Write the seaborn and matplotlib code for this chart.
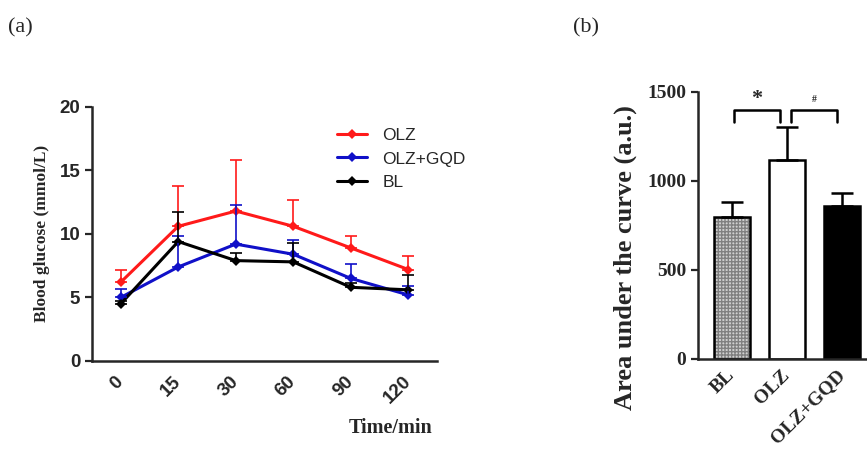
import numpy as np
import pandas as pd
import matplotlib.pyplot as plt
import seaborn as sns
from matplotlib.patches import Rectangle

sns.set_style('ticks')
plt.rcParams['font.family'] = ['Liberation Sans', 'DejaVu Sans']
plt.rcParams['hatch.linewidth'] = 1.0

# (a) blood glucose over time
times = ['0', '15', '30', '60', '90', '120']
groups = ['OLZ', 'OLZ+GQD', 'BL']
olz = [6.2, 10.6, 11.8, 10.6, 8.9, 7.2]
olz_sd = [1.0, 3.2, 4.0, 2.1, 0.9, 1.1]
gqd = [5.0, 7.4, 9.2, 8.4, 6.5, 5.2]
gqd_sd = [0.7, 2.4, 3.1, 1.1, 1.1, 0.7]
bl = [4.5, 9.4, 7.9, 7.8, 5.8, 5.6]
bl_sd = [0.2, 2.3, 0.6, 1.5, 0.3, 1.2]
colors = {'OLZ': '#ff1a1a', 'OLZ+GQD': '#1010c8', 'BL': '#000000'}

# (b) area under the curve
auc_groups = ['BL', 'OLZ', 'OLZ+GQD']
auc = [798, 1116, 860]
auc_sd = [80, 187, 73]

means = {'OLZ': olz, 'OLZ+GQD': gqd, 'BL': bl}
sds = {'OLZ': olz_sd, 'OLZ+GQD': gqd_sd, 'BL': bl_sd}
df = pd.DataFrame([(g, i, v) for g in groups for i, v in enumerate(means[g])],
                  columns=['group', 'pos', 'glucose'])

fig = plt.figure(figsize=(8.67, 4.49), dpi=100)
ax1 = fig.add_axes([0.1061, 0.196, 0.398, 0.566])
ax2 = fig.add_axes([0.805, 0.201, 0.195, 0.595])

sns.lineplot(data=df, x='pos', y='glucose', hue='group', hue_order=groups,
             palette=colors, marker='D', markersize=5, markeredgewidth=0,
             linewidth=2.2, ax=ax1)
for g in groups:
    ax1.errorbar(range(len(times)), means[g], yerr=[np.zeros(len(times)), sds[g]],
                 fmt='none', ecolor=colors[g], elinewidth=1.2, capsize=4, capthick=1.2)

ax1.set_xlim(-0.5, 5.5)
ax1.set_ylim(0, 20)
ax1.set_yticks([0, 5, 10, 15, 20])
ax1.set_xticks(range(len(times)))
ax1.set_xticklabels(times, rotation=45, ha='right', va='center', rotation_mode='anchor')
ax1.tick_params(axis='x', length=0, pad=13, labelsize=13.5)
ax1.tick_params(axis='y', length=5, width=1.6, labelsize=13.5)
for lab in ax1.get_xticklabels() + ax1.get_yticklabels():
    lab.set_fontweight('bold')
ax1.set_xlabel('')
ax1.set_ylabel('Blood glucose (mmol/L)', family='Liberation Serif', fontweight='bold',
               fontsize=12.5, labelpad=7)
ax1.text(0.865, -0.262, 'Time/min', transform=ax1.transAxes, family='Liberation Serif',
         fontweight='bold', fontsize=14.5, ha='center', va='center')
for s in ['top', 'right']:
    ax1.spines[s].set_visible(False)
for s in ['left', 'bottom']:
    ax1.spines[s].set_linewidth(1.8)
leg = ax1.legend(loc='upper left', bbox_to_anchor=(0.665, 0.98), frameon=False,
                 fontsize=12.5, handlelength=1.7, handletextpad=0.9, labelspacing=0.5)

# bar chart
auc_df = pd.DataFrame({'group': auc_groups, 'auc': auc})
sns.barplot(data=auc_df, x='group', y='auc', order=auc_groups, width=0.65,
            color='white', edgecolor='black', linewidth=1.8, ax=ax2)
bars = ax2.patches
bars[0].set_facecolor('#d0d0d0')
bars[0].set_edgecolor('#808080')
bars[0].set_hatch('+++++')
bars[0].set_linewidth(0)
ax2.add_patch(Rectangle((bars[0].get_x(), 0), bars[0].get_width(), bars[0].get_height(),
                        fill=False, edgecolor='black', linewidth=1.8))
bars[2].set_facecolor('black')
ax2.errorbar(range(len(auc)), auc, yerr=[np.zeros(len(auc)), auc_sd], fmt='none',
             ecolor='black', elinewidth=1.8, capsize=8, capthick=1.8)

# significance brackets
for (a, b), mark, fs, y in [((0.03, 0.87), '*', 16, 1405), ((1.07, 1.91), '#', 7, 1430)]:
    ax2.plot([a, a, b, b], [1328, 1397, 1397, 1328], color='black', lw=1.8, clip_on=False)
    ax2.text((a + b) / 2, y, mark, ha='center', va='bottom', fontsize=fs,
             fontweight='bold', family='Liberation Serif')

ax2.set_xlim(-0.62, 2.45)
ax2.set_ylim(0, 1500)
ax2.set_yticks([0, 500, 1000, 1500])
ax2.set_xticks(range(len(auc_groups)))
ax2.set_xticklabels(auc_groups, rotation=45, ha='right', va='center', rotation_mode='anchor')
ax2.tick_params(axis='x', length=0, pad=10, labelsize=14)
ax2.tick_params(axis='y', length=5, width=1.6, labelsize=14)
for lab in ax2.get_xticklabels() + ax2.get_yticklabels():
    lab.set_fontweight('bold')
    lab.set_family('Liberation Serif')
ax2.set_xlabel('')
ax2.set_ylabel('Area under the curve (a.u.)', family='Liberation Serif', fontweight='bold',
               fontsize=19)
ax2.yaxis.set_label_coords(-0.36, 0.38)
for s in ['top', 'right']:
    ax2.spines[s].set_visible(False)
for s in ['left', 'bottom']:
    ax2.spines[s].set_linewidth(1.8)

fig.text(0.009, 0.937, '(a)', family='Liberation Serif', fontsize=16, va='center')
fig.text(0.661, 0.937, '(b)', family='Liberation Serif', fontsize=16, va='center')

fig.savefig('out.png', dpi=100)
